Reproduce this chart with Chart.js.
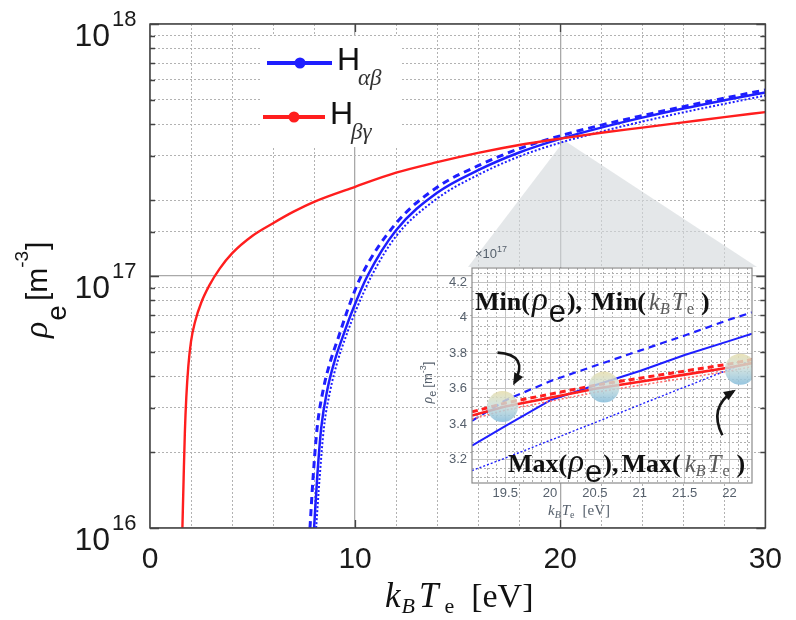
<!DOCTYPE html>
<html>
<head>
<meta charset="utf-8">
<script src="https://cdn.jsdelivr.net/npm/chart.js@4.4.1/dist/chart.umd.min.js"></script>
<style>
  html, body { margin: 0; padding: 0; background: #fff; }
  #wrap { position: relative; width: 796px; height: 620px; }
  #main { position: absolute; left: 0; top: 0; }
  #inset { position: absolute; left: 410px; top: 240px; }
</style>
</head>
<body>
<div id="wrap">
  <canvas id="main" width="796" height="620"></canvas>
  <canvas id="inset" width="360" height="300"></canvas>
</div>
<script>
// electron density vs. temperature, k_B T_e in eV, rho_e in m^-3
const redT = [1.58, 1.64, 1.70, 1.77, 1.87, 2.0, 2.2, 2.5, 2.9, 3.4, 4.0, 5.0, 6.0, 7.0, 8.0, 10, 12, 14, 16, 18, 20, 22, 24, 26, 28, 30];
const redRho = [1.0e16, 1.58e16, 2.4e16, 3.3e16, 4.4e16, 5.5e16, 6.6e16, 7.85e16, 9.2e16, 1.07e17, 1.23e17, 1.445e17, 1.62e17, 1.8e17, 1.97e17, 2.26e17, 2.57e17, 2.83e17, 3.08e17, 3.31e17, 3.51e17, 3.7e17, 3.88e17, 4.07e17, 4.27e17, 4.47e17];

const blueT = [8.0, 8.15, 8.35, 8.65, 9.0, 9.4, 9.9, 10.6, 12, 14, 16, 18, 20, 22, 24, 26, 28, 30];
const blueSolid = [1.0e16, 1.58e16, 2.5e16, 3.55e16, 4.6e16, 5.75e16, 7.4e16, 1.0e17, 1.52e17, 2.14e17, 2.63e17, 3.09e17, 3.5e17, 3.88e17, 4.25e17, 4.62e17, 4.98e17, 5.35e17];
const dashT = [7.8, 7.95, 8.15, 8.45, 8.8, 9.2, 9.65, 10.3, 12, 14, 16, 18, 20, 22, 24, 26, 28, 30];
const blueDash = [1.0e16, 1.58e16, 2.5e16, 3.55e16, 4.6e16, 5.75e16, 7.4e16, 1.0e17, 1.62e17, 2.25e17, 2.74e17, 3.2e17, 3.6e17, 3.97e17, 4.33e17, 4.7e17, 5.08e17, 5.47e17];
const dotT = [8.1, 8.27, 8.48, 8.8, 9.15, 9.55, 10.07, 10.8, 12, 14, 16, 18, 20, 22, 24, 26, 28, 30];
const blueDot = [1.0e16, 1.58e16, 2.5e16, 3.55e16, 4.6e16, 5.75e16, 7.4e16, 1.0e17, 1.44e17, 2.03e17, 2.52e17, 2.98e17, 3.38e17, 3.74e17, 4.1e17, 4.46e17, 4.82e17, 5.2e17];

// zoomed window around 20 eV, rho_e in units of 1e17 m^-3
const zoomT = [19.13, 19.5, 20.0, 20.5, 21.0, 21.5, 22.0, 22.25];
const zBlueSolid = [3.28, 3.39, 3.535, 3.62, 3.70, 3.79, 3.87, 3.91];
const zBlueDash = [3.42, 3.535, 3.643, 3.73, 3.815, 3.90, 3.99, 4.03];
const zBlueDot = [3.14, 3.21, 3.31, 3.41, 3.51, 3.61, 3.71, 3.76];
const zRedSolid = [3.45, 3.50, 3.55, 3.60, 3.64, 3.68, 3.72, 3.745];
const zRedDash = [3.47, 3.52, 3.57, 3.62, 3.66, 3.70, 3.74, 3.765];
const zRedDot = [3.43, 3.48, 3.53, 3.58, 3.62, 3.66, 3.70, 3.725];

// crossing points marked in the zoom
const markT = [19.47, 20.6, 22.12];
const markRho = [3.50, 3.61, 3.71];

// tick labels
const mainXLabels = [0, 10, 20, 30];
const mainYDecades = [16, 17, 18];
const zoomXLabels = [19.5, 20, 20.5, 21, 21.5, 22];
const zoomYLabels = [3.2, 3.4, 3.6, 3.8, 4, 4.2];

// apex of the callout wedge
const calloutT = 20.2;
const calloutRho = 3.45e17;

const blue = "#1e1eff";
const red = "#ff1e1e";
const sans = '"Liberation Sans", Arial, sans-serif';
const serif = '"Liberation Serif", "Times New Roman", serif';

Chart.defaults.font.family = sans;

const pts = (xs, ys) => xs.map((v, i) => ({ x: v, y: ys[i] }));
const isDecade = (v) => Math.abs(Math.log10(v) - Math.round(Math.log10(v))) < 1e-9;
const near = (v, list) => list.some((l) => Math.abs(l - v) < 1e-6);

function drawRuns(ctx, x, y, runs) {
  let cx = x;
  for (const r of runs) {
    ctx.font = r.font;
    ctx.fillStyle = r.color || "#111";
    cx += r.dx || 0;
    ctx.fillText(r.text, cx, y + (r.dy || 0));
    cx += ctx.measureText(r.text).width;
  }
  return cx;
}

function arrow(ctx, sx, sy, qx, qy, ex, ey) {
  ctx.beginPath();
  ctx.moveTo(sx, sy);
  ctx.quadraticCurveTo(qx, qy, ex, ey);
  ctx.stroke();
  const a = Math.atan2(ey - qy, ex - qx);
  const L = 9, W = 5;
  ctx.beginPath();
  ctx.moveTo(ex + Math.cos(a) * 3, ey + Math.sin(a) * 3);
  ctx.lineTo(ex - L * Math.cos(a) + W * Math.sin(a), ey - L * Math.sin(a) - W * Math.cos(a));
  ctx.lineTo(ex - L * Math.cos(a) - W * Math.sin(a), ey - L * Math.sin(a) + W * Math.cos(a));
  ctx.closePath();
  ctx.fill();
}

const mainDecor = {
  id: "mainDecor",
  beforeDatasetsDraw(chart) {
    const { ctx, scales: { x, y } } = chart;
    ctx.save();
    // wedge from the zoomed spot down to the inset
    ctx.fillStyle = "rgba(212, 216, 219, 0.62)";
    ctx.beginPath();
    ctx.moveTo(x.getPixelForValue(calloutT), y.getPixelForValue(calloutRho));
    ctx.lineTo(468, 267);
    ctx.lineTo(757, 267);
    ctx.closePath();
    ctx.fill();
    // legend backdrop
    ctx.fillStyle = "#fff";
    ctx.fillRect(262, 36, 140, 111);
    ctx.restore();
  },
  afterDatasetsDraw(chart) {
    const { ctx, chartArea: a, scales: { x, y } } = chart;
    ctx.save();
    ctx.strokeStyle = "#444";
    ctx.lineWidth = 1.5;
    ctx.strokeRect(a.left, a.top, a.right - a.left, a.bottom - a.top);
    // inward tick marks
    ctx.lineWidth = 1.3;
    ctx.beginPath();
    for (const t of y.ticks) {
      const py = Math.round(y.getPixelForValue(t.value)) + 0.5;
      const len = isDecade(t.value) ? 9 : 5;
      ctx.moveTo(a.left, py); ctx.lineTo(a.left + len, py);
      ctx.moveTo(a.right, py); ctx.lineTo(a.right - len, py);
    }
    for (const v of mainXLabels.slice(1, -1)) {
      const px = Math.round(x.getPixelForValue(v)) + 0.5;
      ctx.moveTo(px, a.bottom); ctx.lineTo(px, a.bottom - 8);
      ctx.moveTo(px, a.top); ctx.lineTo(px, a.top + 8);
    }
    ctx.stroke();

    // legend
    const items = [
      { ds: chart.data.datasets[1], x0: 267, x1: 332, y: 63, mx: 300, hx: 337, hy: 70, sub: "αβ", sx: 358, sy: 85 },
      { ds: chart.data.datasets[0], x0: 263, x1: 325, y: 117, mx: 294, hx: 330, hy: 124, sub: "βγ", sx: 351, sy: 139 },
    ];
    for (const it of items) {
      ctx.strokeStyle = it.ds.borderColor;
      ctx.fillStyle = it.ds.borderColor;
      ctx.lineWidth = 4;
      ctx.beginPath();
      ctx.moveTo(it.x0, it.y); ctx.lineTo(it.x1, it.y);
      ctx.stroke();
      ctx.beginPath();
      ctx.arc(it.mx, it.y, 5.5, 0, Math.PI * 2);
      ctx.fill();
      ctx.fillStyle = "#111";
      ctx.font = "32px " + sans;
      ctx.fillText("H", it.hx, it.hy);
      ctx.font = "italic 23px " + serif;
      ctx.fillStyle = "#333";
      ctx.fillText(it.sub, it.sx, it.sy);
    }
    ctx.restore();
  },
  afterDraw(chart) {
    const { ctx, scales: { y } } = chart;
    ctx.save();
    ctx.fillStyle = "#1a1a1a";
    // decade labels on the log axis
    for (const d of mainYDecades) {
      const py = y.getPixelForValue(Math.pow(10, d));
      ctx.font = "32px " + sans;
      ctx.textAlign = "right";
      ctx.fillText("10", 110, py + 22);
      ctx.font = "22px " + sans;
      ctx.textAlign = "left";
      ctx.fillText(String(d), 112, py + 2);
    }
    ctx.textAlign = "left";
    // y title
    ctx.save();
    ctx.translate(47, 338);
    ctx.rotate(-Math.PI / 2);
    drawRuns(ctx, 0, 0, [
      { text: "ρ", font: "italic 34px " + serif },
      { text: "e", font: "28px " + sans, dy: 19, dx: 1 },
      { text: "[m", font: "30px " + sans, dx: 4 },
      { text: "-3", font: "19px " + sans, dy: -19 },
      { text: "]", font: "30px " + sans, dx: 1 },
    ]);
    ctx.restore();
    // x title
    drawRuns(ctx, 385, 607, [
      { text: "k", font: "italic 35px " + serif },
      { text: "B", font: "italic 22px " + serif, dy: 6, dx: 1 },
      { text: "T", font: "italic 35px " + serif, dx: 4 },
      { text: "e", font: "22px " + serif, dy: 6, dx: 6 },
      { text: "[eV]", font: "34px " + serif, dx: 17 },
    ]);
    ctx.restore();
  },
};

const gridColor = (major) => (major ? "#a9a9a9" : "#b2b2b2");

new Chart(document.getElementById("main"), {
  type: "line",
  data: {
    datasets: [
      { label: "Hβγ", data: pts(redT, redRho), borderColor: red, borderWidth: 2.4 },
      { label: "Hαβ", data: pts(blueT, blueSolid), borderColor: blue, borderWidth: 2.5 },
      { label: "Hαβ max", data: pts(dashT, blueDash), borderColor: blue, borderWidth: 3, borderDash: [7, 5] },
      { label: "Hαβ min", data: pts(dotT, blueDot), borderColor: blue, borderWidth: 2, borderDash: [2, 2] },
    ],
  },
  options: {
    responsive: false,
    animation: false,
    events: [],
    layout: { padding: { left: 0, right: 19, top: 24, bottom: 0 } },
    elements: {
      point: { radius: 0 },
      line: { cubicInterpolationMode: "monotone", fill: false },
    },
    plugins: { legend: { display: false }, tooltip: { enabled: false } },
    scales: {
      x: {
        type: "linear",
        min: 0,
        max: 30,
        afterFit: (s) => { s.height = 92; },
        ticks: {
          stepSize: 2,
          autoSkip: false,
          maxRotation: 0,
          padding: 14,
          color: "#1a1a1a",
          font: { size: 30 },
          callback: (v) => (near(v, mainXLabels) ? String(v) : ""),
        },
        grid: {
          drawTicks: false,
          color: (c) => gridColor(c.tick && c.tick.value % 10 === 0),
          lineWidth: (c) => (c.tick && c.tick.value % 10 === 0 ? 1.3 : 1),
        },
        border: { display: false, dash: (c) => (c.tick && c.tick.value % 10 !== 0 ? [2, 2] : []) },
      },
      y: {
        type: "logarithmic",
        min: 1e16,
        max: 1e18,
        afterFit: (s) => { s.width = 150; },
        ticks: { display: false, autoSkip: false },
        grid: {
          drawTicks: false,
          color: (c) => gridColor(c.tick && isDecade(c.tick.value)),
          lineWidth: (c) => (c.tick && isDecade(c.tick.value) ? 1.3 : 1),
        },
        border: { display: false, dash: (c) => (c.tick && !isDecade(c.tick.value) ? [2, 2] : []) },
      },
    },
  },
  plugins: [mainDecor],
});

const insetDecor = {
  id: "insetDecor",
  beforeDraw(chart) {
    const { ctx, chartArea: a } = chart;
    ctx.save();
    ctx.fillStyle = "rgba(255, 255, 255, 0.9)";
    ctx.fillRect(a.left, a.top, a.right - a.left, a.bottom - a.top);
    ctx.restore();
  },
  afterDatasetsDraw(chart) {
    const { ctx, chartArea: a, scales: { x, y } } = chart;
    ctx.save();
    ctx.beginPath();
    ctx.rect(a.left, a.top, a.right - a.left, a.bottom - a.top);
    ctx.clip();
    const c = markT.map((t, i) => [x.getPixelForValue(t), y.getPixelForValue(markRho[i])]);
    for (const [cx, cy] of c) {
      const r = 15.5;
      const g = ctx.createLinearGradient(cx, cy - r, cx, cy + r);
      g.addColorStop(0, "rgba(230, 221, 172, 0.85)");
      g.addColorStop(0.45, "rgba(203, 222, 218, 0.82)");
      g.addColorStop(1, "rgba(136, 190, 220, 0.88)");
      ctx.fillStyle = g;
      ctx.beginPath();
      ctx.arc(cx, cy, r, 0, Math.PI * 2);
      ctx.fill();
    }
    ctx.strokeStyle = "#151515";
    ctx.fillStyle = "#151515";
    ctx.lineWidth = 2.6;
    const [s1x, s1y] = c[0];
    arrow(ctx, s1x - 5, s1y - 54, s1x + 27, s1y - 52, s1x + 12, s1y - 24);
    const [s3x, s3y] = c[2];
    arrow(ctx, s3x - 18, s3y + 66, s3x - 32, s3y + 38, s3x - 7, s3y + 22);

    const bold = "bold 26px " + serif;
    const gray = "#5a5a5a";
    drawRuns(ctx, a.left + 3, a.top + 42, [
      { text: "Min(", font: bold },
      { text: "ρ", font: "italic 33px " + serif, dx: 2 },
      { text: "e", font: "31px " + sans, dy: 12, dx: 1 },
      { text: "),", font: bold, dx: 1 },
      { text: "Min(", font: bold, dx: 9 },
      { text: "k", font: "italic 25px " + serif, color: gray, dx: 3 },
      { text: "B", font: "italic 16px " + serif, color: gray, dy: 4 },
      { text: "T", font: "italic 25px " + serif, color: gray, dx: 2 },
      { text: "e", font: "16px " + serif, color: gray, dy: 4, dx: 1 },
      { text: ")", font: bold, dx: 7 },
    ]);
    drawRuns(ctx, a.left + 36, a.bottom - 11, [
      { text: "Max(", font: bold },
      { text: "ρ", font: "italic 33px " + serif, dx: 1 },
      { text: "e", font: "31px " + sans, dy: 10, dx: 1 },
      { text: "),", font: bold, dx: 1 },
      { text: "Max(", font: bold, dx: 3 },
      { text: "k", font: "italic 25px " + serif, color: gray, dx: 4 },
      { text: "B", font: "italic 16px " + serif, color: gray, dy: 4 },
      { text: "T", font: "italic 25px " + serif, color: gray, dx: 2 },
      { text: "e", font: "16px " + serif, color: gray, dy: 4, dx: 1 },
      { text: ")", font: bold, dx: 7 },
    ]);
    ctx.restore();
  },
  afterDraw(chart) {
    const { ctx, chartArea: a } = chart;
    ctx.save();
    ctx.strokeStyle = "#8a8a8a";
    ctx.lineWidth = 1.2;
    ctx.strokeRect(a.left, a.top, a.right - a.left, a.bottom - a.top);
    const lab = "#56606c";
    // exponent over the inset axis
    drawRuns(ctx, a.left + 3, a.top - 10, [
      { text: "×10", font: "13px " + sans, color: lab },
      { text: "17", font: "9px " + sans, color: lab, dy: -6 },
    ]);
    // y title
    ctx.save();
    ctx.translate(a.left - 40, (a.top + a.bottom) / 2 + 28);
    ctx.rotate(-Math.PI / 2);
    drawRuns(ctx, 0, 0, [
      { text: "ρ", font: "italic 14px " + serif, color: lab },
      { text: "e", font: "11px " + sans, color: lab, dy: 4 },
      { text: "[m", font: "13px " + sans, color: lab, dx: 3 },
      { text: "-3", font: "9px " + sans, color: lab, dy: -6 },
      { text: "]", font: "13px " + sans, color: lab },
    ]);
    ctx.restore();
    // x title
    drawRuns(ctx, a.left + 76, a.bottom + 32, [
      { text: "k", font: "italic 15px " + serif, color: lab },
      { text: "B", font: "italic 10px " + serif, color: lab, dy: 3 },
      { text: "T", font: "italic 15px " + serif, color: lab, dx: 1 },
      { text: "e", font: "10px " + serif, color: lab, dy: 3 },
      { text: "[eV]", font: "15px " + serif, color: lab, dx: 8 },
    ]);
    ctx.restore();
  },
};

const zoomGrid = (major) => (major ? "#c4c4c4" : "#b0b0b0");

new Chart(document.getElementById("inset"), {
  type: "line",
  data: {
    datasets: [
      { label: "Hβγ", data: pts(zoomT, zRedSolid), borderColor: red, borderWidth: 2.6 },
      { label: "Hβγ max", data: pts(zoomT, zRedDash), borderColor: red, borderWidth: 3, borderDash: [6, 4] },
      { label: "Hβγ min", data: pts(zoomT, zRedDot), borderColor: "#ff6a6a", borderWidth: 1.5, borderDash: [2, 2] },
      { label: "Hαβ", data: pts(zoomT, zBlueSolid), borderColor: blue, borderWidth: 2 },
      { label: "Hαβ max", data: pts(zoomT, zBlueDash), borderColor: blue, borderWidth: 2.2, borderDash: [7, 5] },
      { label: "Hαβ min", data: pts(zoomT, zBlueDot), borderColor: blue, borderWidth: 1.4, borderDash: [2, 2] },
    ],
  },
  options: {
    responsive: false,
    animation: false,
    events: [],
    layout: { padding: { left: 0, right: 18, top: 28, bottom: 0 } },
    elements: { point: { radius: 0 }, line: { tension: 0, fill: false } },
    plugins: { legend: { display: false }, tooltip: { enabled: false } },
    scales: {
      x: {
        type: "linear",
        min: 19.13,
        max: 22.25,
        afterFit: (s) => { s.height = 57; },
        ticks: {
          stepSize: 0.1,
          includeBounds: false,
          autoSkip: false,
          maxRotation: 0,
          padding: 3,
          color: "#56606c",
          font: { size: 13 },
          callback: (v) => (near(v, zoomXLabels) ? String(v) : ""),
        },
        grid: {
          drawTicks: false,
          color: (c) => zoomGrid(c.tick && near(c.tick.value, zoomXLabels)),
        },
        border: { display: false, dash: (c) => (c.tick && !near(c.tick.value, zoomXLabels) ? [2, 2] : []) },
      },
      y: {
        type: "linear",
        min: 3.07,
        max: 4.28,
        afterFit: (s) => { s.width = 62; },
        ticks: {
          stepSize: 0.05,
          includeBounds: false,
          autoSkip: false,
          padding: 5,
          color: "#56606c",
          font: { size: 13 },
          callback: (v) => (near(v, zoomYLabels) ? String(Number(v.toFixed(1))) : ""),
        },
        grid: {
          drawTicks: false,
          color: (c) => zoomGrid(c.tick && near(c.tick.value, zoomYLabels)),
        },
        border: { display: false, dash: (c) => (c.tick && !near(c.tick.value, zoomYLabels) ? [2, 2] : []) },
      },
    },
  },
  plugins: [insetDecor],
});
</script>
</body>
</html>
